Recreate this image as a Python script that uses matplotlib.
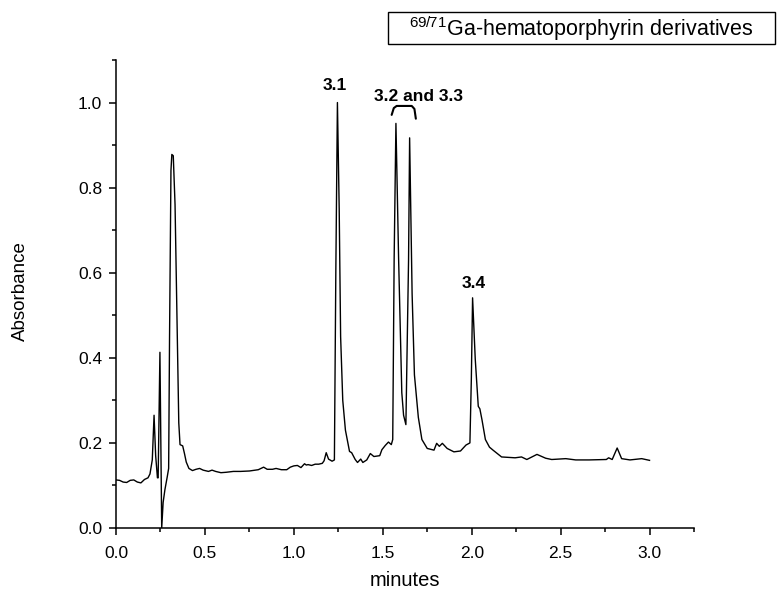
import numpy as np
import matplotlib
matplotlib.use("Agg")
import matplotlib.pyplot as plt
from matplotlib.patches import Rectangle
from matplotlib.ticker import MultipleLocator

plt.rcParams['font.family'] = ['Liberation Sans', 'DejaVu Sans']
plt.rcParams['mathtext.fontset'] = 'custom'
plt.rcParams['mathtext.rm'] = 'Liberation Sans'

# chromatogram trace (minutes, absorbance)
minutes = [0.0, 0.02, 0.04, 0.06, 0.08, 0.10, 0.12, 0.14, 0.16, 0.18, 0.191,
           0.204, 0.214, 0.223, 0.233, 0.237, 0.247, 0.257, 0.265, 0.275, 0.288,
           0.296, 0.301, 0.309, 0.314, 0.322, 0.332, 0.345, 0.353, 0.36, 0.375,
           0.385, 0.395, 0.41, 0.43, 0.45, 0.47, 0.49, 0.52, 0.54, 0.56, 0.59,
           0.62, 0.66, 0.70, 0.75, 0.80, 0.83, 0.85, 0.88, 0.90, 0.93, 0.96,
           0.98, 1.0, 1.02, 1.04, 1.06, 1.07, 1.08, 1.10, 1.12, 1.14, 1.16,
           1.17, 1.182, 1.195, 1.215, 1.228, 1.236, 1.245, 1.255, 1.263, 1.275,
           1.29, 1.313, 1.325, 1.345, 1.358, 1.376, 1.388, 1.41, 1.43, 1.45,
           1.483, 1.495, 1.514, 1.532, 1.548, 1.556, 1.564, 1.574, 1.589, 1.607,
           1.617, 1.63, 1.636, 1.645, 1.651, 1.665, 1.678, 1.70, 1.72, 1.75,
           1.788, 1.803, 1.818, 1.835, 1.862, 1.90, 1.937, 1.968, 1.99, 1.998,
           2.005, 2.02, 2.037, 2.046, 2.058, 2.077, 2.10, 2.12, 2.168, 2.244,
           2.28, 2.31, 2.367, 2.416, 2.45, 2.529, 2.585, 2.66, 2.757, 2.77,
           2.79, 2.818, 2.843, 2.89, 2.956, 3.0]
absorbance = [0.113, 0.112, 0.108, 0.107, 0.112, 0.113, 0.108, 0.106, 0.114, 0.118, 0.127,
              0.16, 0.265, 0.17, 0.118, 0.118, 0.413, 0.0, 0.06, 0.09, 0.12,
              0.14, 0.444, 0.84, 0.878, 0.875, 0.76, 0.444, 0.247, 0.196, 0.193,
              0.175, 0.155, 0.14, 0.135, 0.138, 0.14, 0.136, 0.133, 0.136, 0.133, 0.130,
              0.131, 0.133, 0.133, 0.134, 0.137, 0.143, 0.138, 0.138, 0.140, 0.137, 0.137,
              0.143, 0.146, 0.147, 0.142, 0.151, 0.148, 0.149, 0.147, 0.150, 0.150, 0.152,
              0.158, 0.177, 0.162, 0.157, 0.16, 0.6, 1.0, 0.75, 0.45, 0.30,
              0.23, 0.18, 0.177, 0.161, 0.154, 0.162, 0.154, 0.16, 0.175, 0.168,
              0.17, 0.184, 0.194, 0.202, 0.196, 0.208, 0.634, 0.951, 0.634, 0.318,
              0.265, 0.243, 0.397, 0.63, 0.917, 0.55, 0.36, 0.26, 0.208, 0.187,
              0.183, 0.199, 0.192, 0.199, 0.187, 0.179, 0.181, 0.195, 0.20, 0.35,
              0.541, 0.397, 0.286, 0.28, 0.254, 0.208, 0.19, 0.183, 0.167, 0.165,
              0.167, 0.161, 0.173, 0.164, 0.161, 0.163, 0.160, 0.160, 0.161, 0.165,
              0.161, 0.188, 0.163, 0.160, 0.163, 0.159]

peak_labels = ["3.1", "3.2 and 3.3", "3.4"]
label_x = [1.228, 1.70, 2.013]
label_y = [1.029, 1.004, 0.563]

fig = plt.figure(figsize=(7.79, 5.98), dpi=100)
ax = fig.add_axes([116 / 779, 70 / 598, 578 / 779, 468 / 598])

ax.plot(minutes, absorbance, color='black', lw=1.0)

ax.set_xlim(0, 3.25)
ax.set_ylim(0, 1.1)
ax.xaxis.set_major_locator(MultipleLocator(0.5))
ax.xaxis.set_minor_locator(MultipleLocator(0.25))
ax.yaxis.set_major_locator(MultipleLocator(0.2))
ax.yaxis.set_minor_locator(MultipleLocator(0.1))
ax.xaxis.set_major_formatter(lambda v, p: f"{v:.1f}")
ax.yaxis.set_major_formatter(lambda v, p: f"{v:.1f}")

for s in ['top', 'right']:
    ax.spines[s].set_visible(False)
for s in ['left', 'bottom']:
    ax.spines[s].set_linewidth(1.1)
ax.tick_params(which='major', direction='out', length=5, width=1.1, labelsize=12.5)
ax.tick_params(axis='x', which='major', pad=8)
ax.tick_params(axis='y', which='major', pad=5)
ax.tick_params(which='minor', direction='out', length=3, width=1.1)

ax.set_xlabel("minutes", fontsize=14.5, va='center')
ax.set_ylabel("Absorbance", fontsize=13.5, va='center')
ax.xaxis.set_label_coords((405 - 116) / 578, (528 - 580) / 468)
ax.yaxis.set_label_coords((20 - 116) / 578, (528 - 291) / 468)

for txt, x, y in zip(peak_labels, label_x, label_y):
    ax.text(x, y, txt, ha='center', va='baseline', fontsize=12.5, fontweight='bold')

# bracket joining peaks 3.2 and 3.3
bx = [1.55, 1.562, 1.578, 1.663, 1.678, 1.686]
by = [0.971, 0.987, 0.992, 0.992, 0.985, 0.962]
ax.plot(bx, by, color='black', lw=1.5, solid_capstyle='round')

# boxed caption above the plot
fig.add_artist(Rectangle((388 / 779, 1 - 44 / 598), 387 / 779, 32 / 598,
                         transform=fig.transFigure, fill=False, lw=1.0, ec='black'))
fig.text(581 / 779, 1 - 28.5 / 598, r"$\mathregular{^{69/71}}$Ga-hematoporphyrin derivatives",
         ha='center', va='center', fontsize=15.5)

fig.savefig("out.png", dpi=100)
